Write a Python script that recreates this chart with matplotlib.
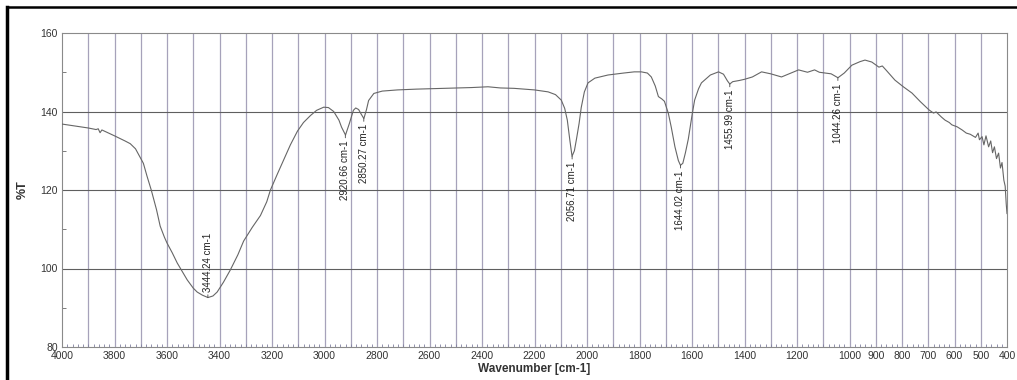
import matplotlib
matplotlib.use("Agg")
import matplotlib.pyplot as plt
from matplotlib.lines import Line2D
import numpy as np

plt.rcParams['font.family'] = ['Liberation Sans', 'DejaVu Sans']

# spectrum (wavenumber, %T)
wavenumber = [4000, 3950, 3900, 3870, 3862, 3855, 3848, 3800, 3760, 3740, 3720, 3700,
              3690, 3676, 3660, 3652, 3640, 3626, 3610, 3600, 3580, 3561, 3540, 3523,
              3500, 3485, 3465, 3444, 3425, 3409, 3385, 3359, 3330, 3308, 3275, 3244,
              3220, 3206, 3180, 3156, 3130, 3103, 3080, 3053, 3030, 3003, 2985, 2965,
              2945, 2935, 2920, 2905, 2890, 2881, 2870, 2860, 2850, 2840, 2832, 2812,
              2780, 2722, 2650, 2595, 2500, 2440, 2377, 2330, 2278, 2200, 2148, 2120,
              2098, 2085, 2075, 2065, 2057, 2048, 2040, 2030, 2022, 2010, 1996, 1970,
              1920, 1860, 1820, 1793, 1770, 1755, 1740, 1728, 1715, 1705, 1690, 1679,
              1665, 1652, 1644, 1635, 1625, 1614, 1600, 1590, 1575, 1564, 1530, 1499,
              1480, 1465, 1456, 1445, 1420, 1400, 1370, 1335, 1300, 1259, 1230, 1194,
              1160, 1133, 1115, 1094, 1070, 1044, 1020, 991, 960, 941, 915, 888, 875,
              860, 827, 795, 762, 730, 697, 680, 670, 650, 636, 620, 610, 590, 571,
              555, 540, 520, 510, 505, 495, 488, 480, 470, 462, 455, 448, 440, 432,
              425, 419, 412, 407, 403, 400]
transmittance = [136.8, 136.3, 135.8, 135.4, 135.6, 134.6, 135.3, 133.8, 132.5, 131.8, 130.5, 128.0,
                 126.8, 123.5, 120.0, 118.0, 115.0, 110.8, 108.0, 106.5, 104.0, 101.4, 99.0, 97.1,
                 95.0, 94.0, 93.2, 92.6, 93.0, 94.0, 96.5, 99.6, 103.5, 107.0, 110.5, 113.5,
                 117.0, 120.0, 124.0, 127.6, 131.5, 135.0, 137.2, 139.0, 140.3, 141.1, 141.0, 140.0,
                 137.8, 136.0, 134.0, 137.0, 140.3, 140.9, 140.5, 139.3, 138.2, 140.5, 142.8, 144.6,
                 145.2, 145.5, 145.7, 145.8, 146.0, 146.1, 146.3, 146.0, 145.9, 145.5, 145.0, 144.3,
                 142.9, 140.8, 137.8, 132.5, 128.6, 130.0, 133.0, 137.0, 141.0, 145.0, 147.3, 148.5,
                 149.3, 149.8, 150.1, 150.1, 149.8, 148.8, 146.5, 143.8, 143.2, 142.6, 139.5, 136.0,
                 131.0, 127.5, 126.3, 126.8, 129.5, 133.0, 139.0, 142.9, 145.8, 147.3, 149.3, 150.1,
                 149.5, 147.8, 147.0, 147.6, 147.9, 148.2, 148.8, 150.1, 149.6, 148.8, 149.6, 150.6,
                 150.0, 150.6, 150.0, 149.8, 149.6, 148.6, 149.8, 151.8, 152.7, 153.1, 152.6, 151.3, 151.6,
                 150.5, 148.0, 146.3, 144.7, 142.5, 140.4, 139.6, 139.9, 138.6, 137.8, 137.2, 136.6, 136.1, 135.3,
                 134.5, 134.2, 133.4, 134.5, 132.8, 133.6, 131.5, 133.8, 131.0, 132.5, 129.5, 131.0, 128.0, 129.4,
                 125.6, 127.0, 122.5, 121.0, 116.5, 114.0]

# labelled peaks
peak_wn = [3444.24, 2920.66, 2850.27, 2056.71, 1644.02, 1455.99, 1044.26]
peak_t = [92.6, 134.0, 138.2, 128.6, 126.3, 147.0, 148.6]
peak_above = [True, False, False, False, False, False, False]

xticks = [4000, 3800, 3600, 3400, 3200, 3000, 2800, 2600, 2400, 2200, 2000,
          1800, 1600, 1400, 1200, 1000, 900, 800, 700, 600, 500, 400]
yticks = [80, 100, 120, 140, 160]

fig = plt.figure(figsize=(10.17, 3.8), dpi=100)
ax = fig.add_axes([62 / 1017, 1 - 347 / 380, 945 / 1017, 314 / 380])

# vertical grid every 100 cm-1, horizontal every 20 %T
for g in range(500, 4000, 100):
    ax.axvline(g, color='#a6a2ba', lw=0.9, zorder=1)
for g in [100, 120, 140]:
    ax.axhline(g, color='#5f5f5f', lw=0.8, zorder=1)

ax.plot(wavenumber, transmittance, color='#666666', lw=0.8, zorder=3)

for w, t, up in zip(peak_wn, peak_t, peak_above):
    lbl = f"{w:.2f} cm-1"
    off = 4 if up else -4
    ax.annotate(lbl, xy=(w, t), xytext=(0, off), textcoords='offset points',
                rotation=90, ha='center', va='bottom' if up else 'top', fontsize=7,
                family=['Liberation Sans Narrow', 'Liberation Sans'], color='#222222',
                arrowprops=dict(arrowstyle='-', color='#444444', lw=0.6, shrinkA=0, shrinkB=0))

ax.set_xlim(4000, 400)
ax.set_ylim(80, 160)
ax.set_xticks(xticks)
ax.set_xticklabels([str(v) for v in xticks])
ax.set_yticks(yticks)
ax.set_xticks(np.arange(400, 4001, 20), minor=True)
ax.set_yticks(np.arange(80, 161, 10), minor=True)
ax.tick_params(axis='both', which='major', length=0, labelsize=7.5, labelcolor='#333333', pad=3)
ax.tick_params(axis='x', which='minor', direction='in', length=2.5, color='#8080a0', width=0.6)
ax.tick_params(axis='y', which='minor', direction='in', length=3, color='#666666', width=0.6)
for s in ax.spines.values():
    s.set_color('#8a8a8a')
    s.set_linewidth(0.8)

ax.set_xlabel("Wavenumber [cm-1]", fontsize=8.5, fontweight='bold', color='#333333', labelpad=1)
ax.set_ylabel("%T", fontsize=9, fontweight='bold', color='#333333', labelpad=8)

# outer frame of the scanned figure
fig.add_artist(Line2D([6.5 / 1017, 6.5 / 1017], [0, 1 - 7 / 380], color='black', lw=2.5))
fig.add_artist(Line2D([6.5 / 1017, 1], [1 - 7 / 380, 1 - 7 / 380], color='black', lw=1.8))

fig.savefig("out.png", dpi=100)
